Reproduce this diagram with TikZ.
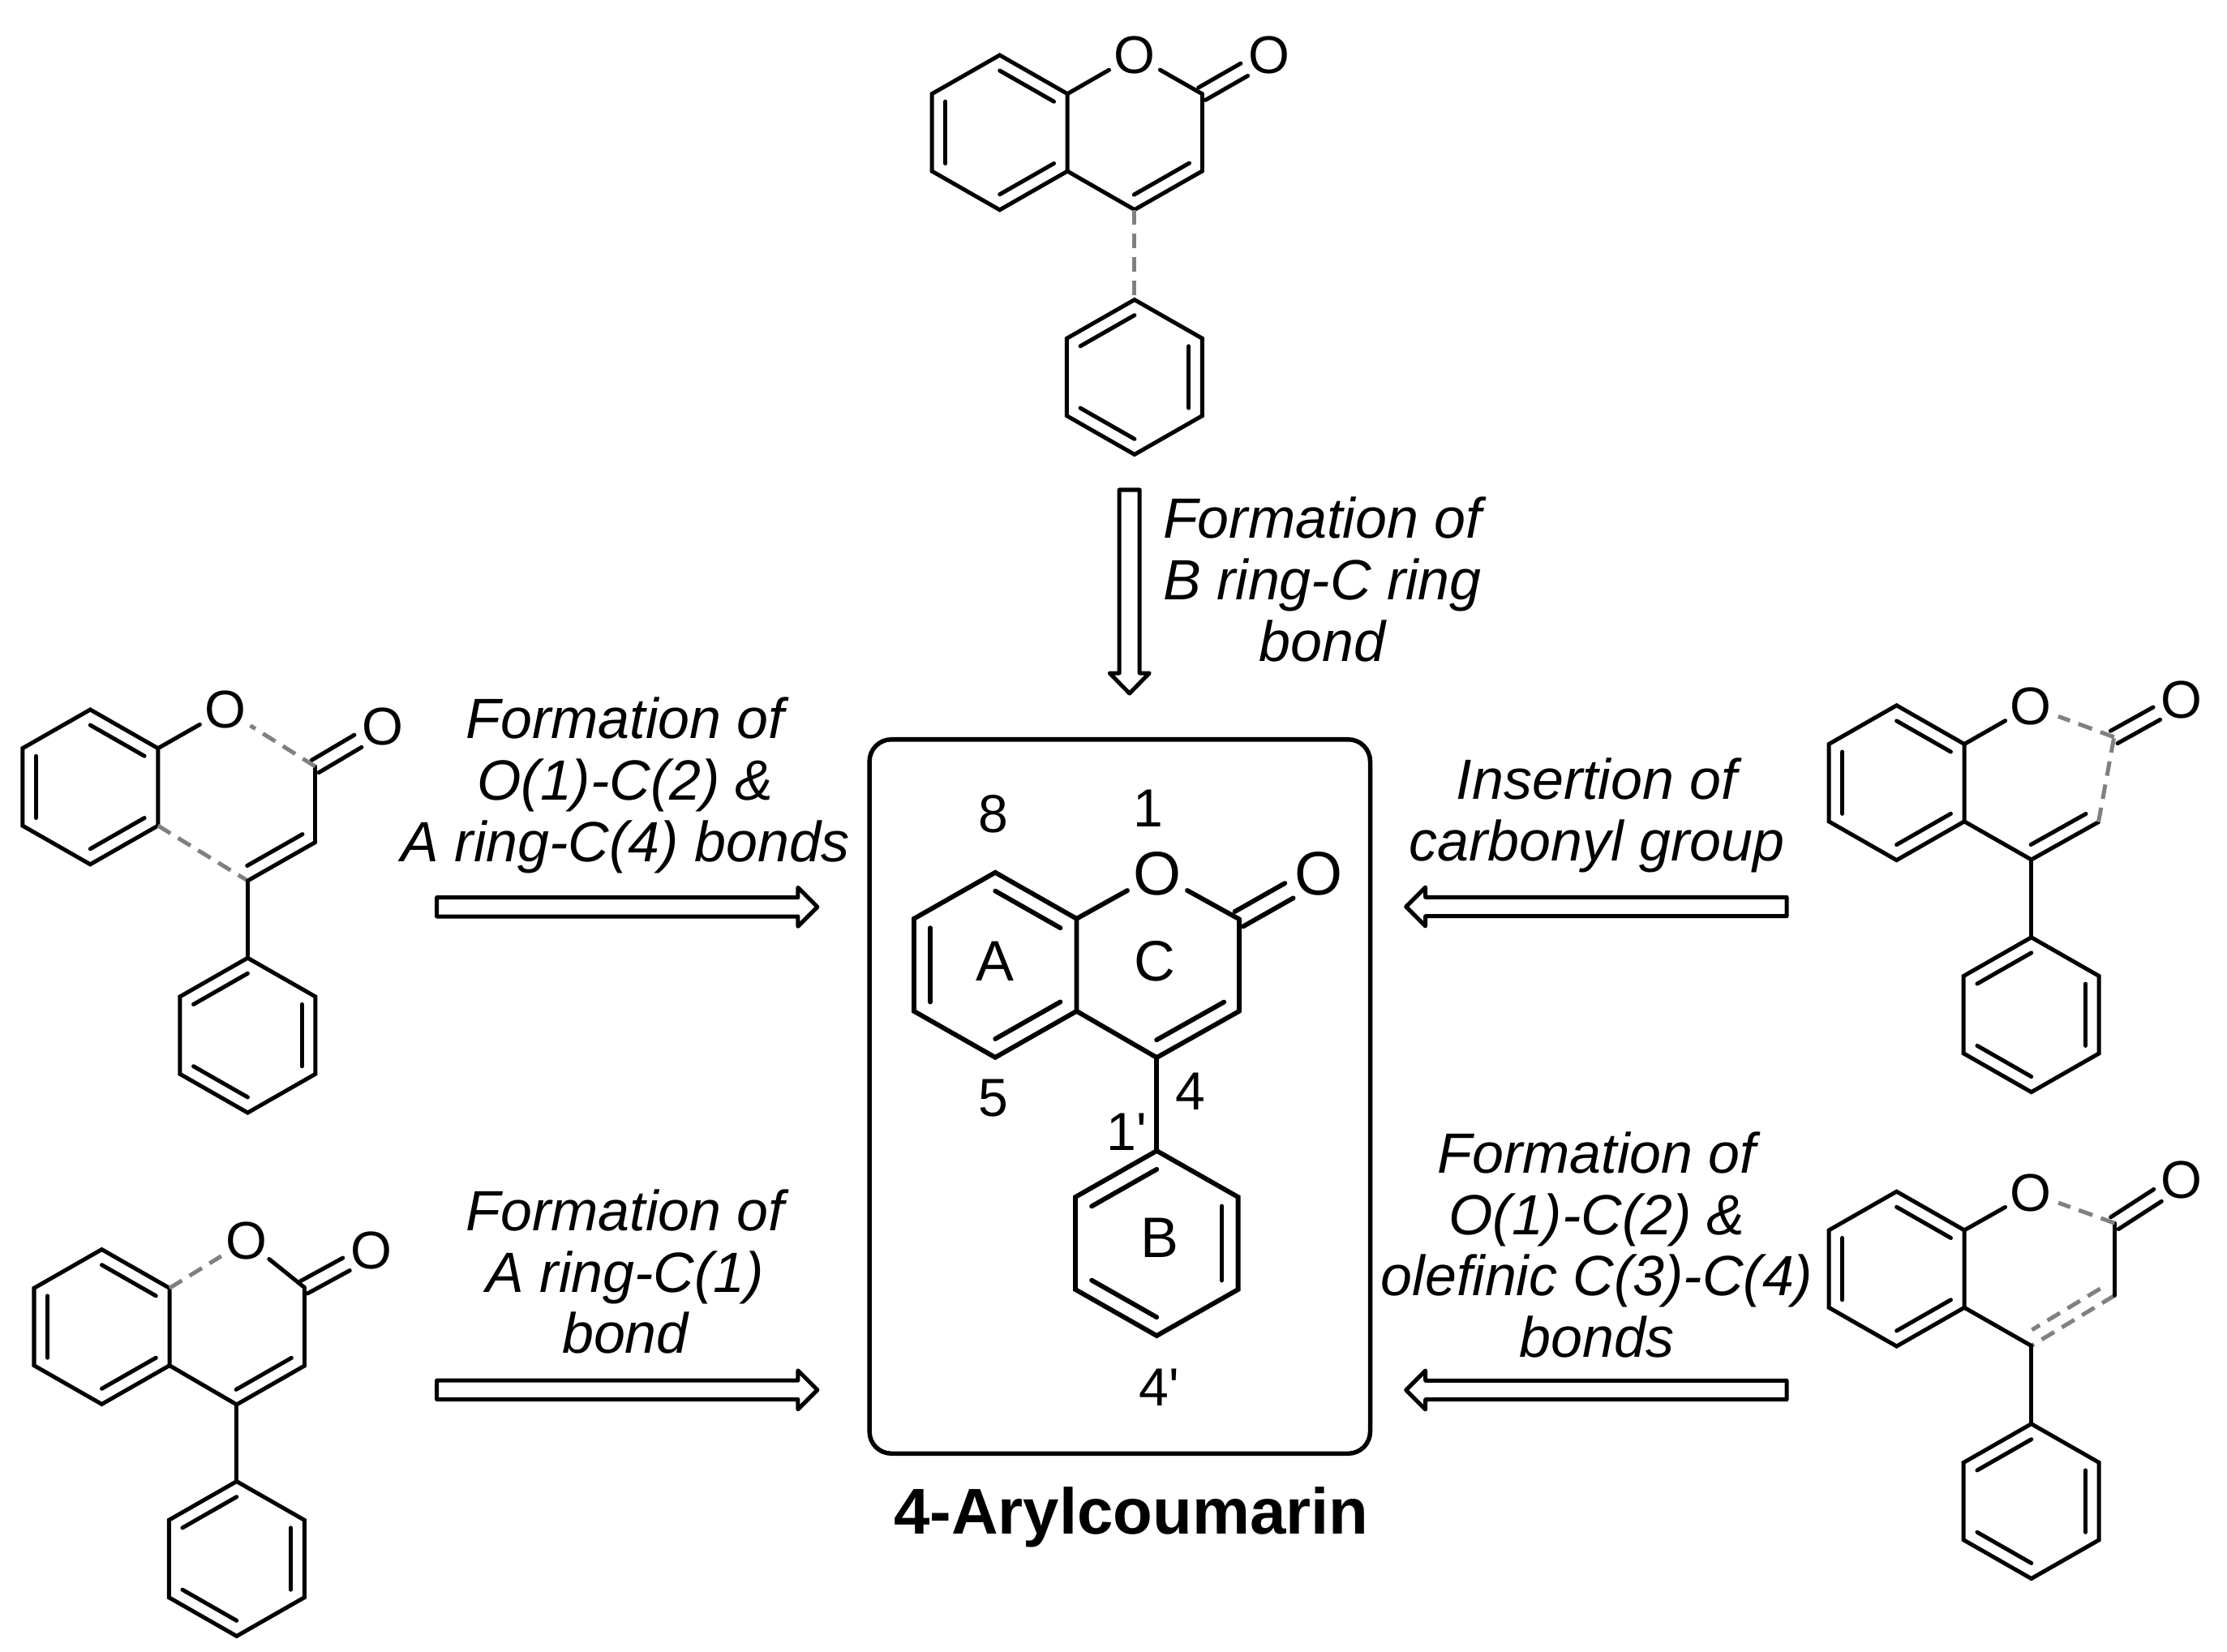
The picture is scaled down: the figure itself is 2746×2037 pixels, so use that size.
\documentclass[tikz,border=0pt]{standalone}
\usepackage{fontspec}
\newfontfamily\lib{Liberation Sans}
\usetikzlibrary{calc}
\definecolor{dashgray}{HTML}{808080}
\tikzset{
  bond/.style={line width=0.05cm,black,line cap=round,line join=miter},
  gbond/.style={line width=0.05cm,dashgray,line cap=butt,dash pattern=on 0.18cm off 0.11cm},
  bAO/.style={bond},bOC/.style={bond},bCC/.style={bond},bDB/.style={bond},bAC/.style={bond},bCP/.style={bond},
  oatom/.style={circle,inner sep=0pt,minimum size=0.71cm,font=\lib\fontsize{18.6}{20}\selectfont},
  lab/.style={align=center,inner sep=0pt,font=\lib\itshape\fontsize{19.9}{21.6}\selectfont},
  num/.style={inner sep=0pt,font=\lib\fontsize{18.8}{20}\selectfont},
  ringl/.style={inner sep=0pt,font=\lib\fontsize{20}{22}\selectfont},
  title/.style={inner sep=0pt,font=\lib\bfseries\fontsize{22.7}{24}\selectfont},
  hollow/.style={draw=black,fill=white,line width=0.05cm,line join=round},
  frame/.style={draw=black,line width=0.055cm,rounded corners=0.27cm,minimum width=6.17cm,minimum height=8.8cm,inner sep=0pt}
}
% hexagon: #1 name, #2 centre
\newcommand{\hexa}[2]{%
  \coordinate (#11) at ($(#2)+(0,{-2*\he})$);
  \coordinate (#12) at ($(#2)+({\hw},{-\he})$);
  \coordinate (#13) at ($(#2)+({\hw},{\he})$);
  \coordinate (#14) at ($(#2)+(0,{2*\he})$);
  \coordinate (#15) at ($(#2)+({-\hw},{\he})$);
  \coordinate (#16) at ($(#2)+({-\hw},{-\he})$);
  \draw[bond] (#11)--(#12)--(#13)--(#14)--(#15)--(#16)--cycle;
}
\newcommand{\inner}[3]{\draw[bond] ($(#1)!0.8!(#2)$) -- ($(#1)!0.8!(#3)$);}
% #1 name, #2 ring A centre, #3 O, #4 C2, #5 C3, #6 C4, #7 carbonyl O, #8 phenyl centre
\newcommand{\coum}[8]{%
  \coordinate (#1ca) at (#2);
  \coordinate (#1cp) at (#8);
  \coordinate (#1C2) at (#4);
  \coordinate (#1C3) at (#5);
  \coordinate (#1C4) at (#6);
  \coordinate (#1Oc) at (#7);
  \node[oatom] (#1O) at (#3) {O};
  \node[oatom] (#1Op) at (#7) {O};
  \hexa{#1a}{#1ca}
  \inner{#1ca}{#1a1}{#1a2}\inner{#1ca}{#1a3}{#1a4}\inner{#1ca}{#1a5}{#1a6}
  \hexa{#1p}{#1cp}
  \inner{#1cp}{#1p6}{#1p1}\inner{#1cp}{#1p2}{#1p3}\inner{#1cp}{#1p4}{#1p5}
  \draw[bond] ($(#1C2)!\cof!90:(#1Oc)$) -- ($(#1Oc)!\rof!(#1C2)!\cof!-90:(#1C2)$);
  \draw[bond] ($(#1C2)!\cof!-90:(#1Oc)$) -- ($(#1Oc)!\rof!(#1C2)!\cof!90:(#1C2)$);
  \draw[bDB] (#1C3) -- (#1C4);
  \draw[bDB] ($(#1C3)!0.09!(#1C4)!\dbl!-90:(#1C4)$) -- ($(#1C4)!0.09!(#1C3)!\dbl!90:(#1C3)$);
  \draw[bCC] (#1C3) -- (#1C2);
  \draw[bOC] (#1C2) -- (#1O);
  \draw[bAO] (#1a2) -- (#1O);
  \draw[bAC] (#1a3) -- (#1C4);
  \draw[bCP] (#1C4) -- (#1p1);
}
% hollow block arrow: #1 tail coordinate, #2 rotation, #3 length, #4 half shaft, #5 head length, #6 half head
\newcommand{\harrow}[6]{%
  \draw[hollow,shift={(#1)},rotate=#2] (0,#4) -- ({#3-#5},#4) -- ({#3-#5},#6) -- (#3,0) -- ({#3-#5},{-#6}) -- ({#3-#5},{-#4}) -- (0,{-#4}) -- cycle;
}
\begin{document}
\begin{tikzpicture}[x=0.01cm,y=-0.01cm]
\useasboundingbox[fill=white] (0,0) rectangle (2746,2037);
\def\hw{83.5}\def\he{47.7}\def\dbl{0.164cm}\def\cof{0.088cm}\def\rof{0.355cm}
% top
\begin{scope}[bCP/.style={gbond}]
\coum{t}{1232.7,163.4}{1398.9,68.2}{1482.1,115.7}{1482.1,211.1}{1398.9,258.6}{1565,68.2}{1398.9,465}
\end{scope}
% left upper
\begin{scope}[bOC/.style={gbond},bAC/.style={gbond}]
\coum{l}{111.3,970.4}{277.9,875.4}{388.6,945}{388.6,1038.6}{305.4,1086}{472,895.7}{305.4,1276.6}
\end{scope}
% left lower
\begin{scope}[bAO/.style={gbond}]
\coum{m}{125.5,1636}{303.6,1529.8}{375,1587.2}{375,1684.3}{291.8,1731.9}{458.2,1541.8}{291.8,1922}
\end{scope}
% right upper
\begin{scope}[bOC/.style={gbond},bCC/.style={gbond}]
\coum{r}{2338.6,965.2}{2504,870.7}{2606.7,908.9}{2587.5,1013.6}{2504.7,1060}{2690.3,862.5}{2504.7,1251.2}
\end{scope}
% right lower
\begin{scope}[bOC/.style={gbond},bDB/.style={gbond}]
\coum{s}{2338.6,1564.6}{2504,1470.7}{2607.4,1508.2}{2607.4,1597.4}{2504.7,1659.4}{2690.3,1454.6}{2504.7,1851.1}
\end{scope}
% central
\node[frame] (box) at (1380.8,1352) {};
\def\hw{100.3}\def\he{57}\def\dbl{0.19cm}\def\cof{0.105cm}\def\rof{0.42cm}
\begin{scope}[bond/.append style={line width=0.058cm},
  oatom/.append style={minimum size=0.83cm,font=\lib\fontsize{21.6}{23}\selectfont}]
\coum{c}{1227.2,1189.8}{1427,1077.5}{1527.7,1133.2}{1527.7,1247}{1426.3,1304}{1626,1077.5}{1426.3,1533}
\end{scope}
\node[num] (n8) at (1225,1004) {8};
\node[num] (n1) at (1416,997) {1};
\node[ringl] (ra) at (1227,1184.8) {A};
\node[ringl] (rc) at (1424,1184.8) {C};
\node[num] (n5) at (1225,1354) {5};
\node[num] (n4) at (1468,1345.5) {4};
\node[num] (n1p) at (1389.3,1395.7) {1'};
\node[ringl] (rb) at (1429.5,1526.4) {B};
\node[num] (n4p) at (1429.5,1710.5) {4'};
\node[title] (ttl) at (1395,1871) {4-Arylcoumarin};
% arrows
\coordinate (aT) at (1392.7,604);
\coordinate (aL) at (538.6,1118.3);
\coordinate (aM) at (538.6,1713.8);
\coordinate (aR) at (2203,1118);
\coordinate (aS) at (2203,1714);
\harrow{aT}{-90}{251}{12.5}{25}{24.5}
\harrow{aL}{0}{469.3}{11.7}{24}{24}
\harrow{aM}{0}{469.3}{11.7}{24}{24}
\harrow{aR}{180}{469.3}{11.7}{24}{24}
\harrow{aS}{180}{469.3}{11.7}{24}{24}
% labels
\node[lab] (lt) at (1630.5,714.5) {Formation of\\B ring-C ring\\bond};
\node[lab] (ll) at (771,968) {Formation of\\O(1)-C(2) \&\\A ring-C(4) bonds};
\node[lab] (lm) at (771,1568) {Formation of\\A ring-C(1)\\bond};
\node[lab] (lr) at (1969,1005) {Insertion of\\carbonyl group};
\node[lab] (ls) at (1969,1535) {Formation of\\O(1)-C(2) \&\\olefinic C(3)-C(4)\\bonds};
\end{tikzpicture}
\end{document}
